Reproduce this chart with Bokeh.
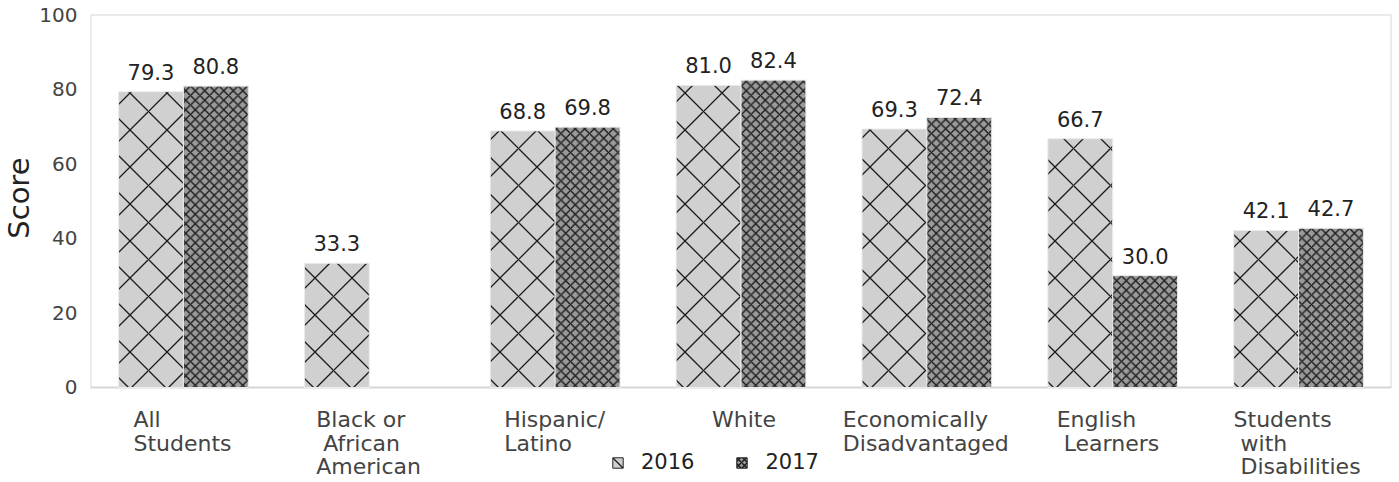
import numpy as np
from bokeh.plotting import figure
from bokeh.models import (ColumnDataSource, FixedTicker, Legend, LegendItem, LabelSet,
                          Range1d, Title)
from bokeh.core.properties import value
from bokeh.embed import file_html
from bokeh.resources import INLINE

NB = "\u00a0"
categories = ["All\nStudents", "Black or\n" + NB + "African\nAmerican", "Hispanic/\nLatino", "White",
              "Economically\nDisadvantaged", "English\n" + NB + "Learners",
              "Students\n" + NB + "with\n" + NB + "Disabilities"]
series_names = ["2016", "2017"]
values_2016 = [79.3, 33.3, 68.8, 81.0, 69.3, 66.7, 42.1]
values_2017 = [80.8, None, 69.8, 82.4, 72.4, 30.0, 42.7]
y_ticks = [0, 20, 40, 60, 80, 100]

# style: horizontal shift (px) of each left-aligned label block
label_shift = [-50, -53, -51, -29, -84, -56, -65]

FONT = "DejaVu Sans"
n = len(categories)
idx = list(range(n))
bw = 0.349
y_top = max(y_ticks)
y_floor = -25.47  # room below the axis for labels and legend (layout)

p = figure(width=1399, height=482, output_backend="svg", toolbar_location=None,
           x_range=Range1d(-0.5, n - 0.5), y_range=Range1d(y_floor, y_top),
           x_axis_location=None,
           min_border_left=87, min_border_right=8, min_border_top=14, min_border_bottom=0)
p.outline_line_color = None
p.grid.visible = False
p.background_fill_color = "white"
p.border_fill_color = "white"

# plot-area box (0..100)
p.quad(left=[p.x_range.start], right=[p.x_range.end], bottom=[y_ticks[0]], top=[y_top],
       fill_color=None, line_color="#d6d6d6", line_width=2)

s16 = ColumnDataSource(dict(x=[i - bw / 2 for i in idx], top=values_2016,
                            lab=["%.1f" % v for v in values_2016]))
k17 = [i for i, v in enumerate(values_2017) if v is not None]
s17 = ColumnDataSource(dict(x=[i + bw / 2 for i in k17], top=[values_2017[i] for i in k17],
                            lab=["%.1f" % values_2017[i] for i in k17]))

style16 = dict(fill_color="#d0d0d0", hatch_pattern="diagonal_cross",
               hatch_scale=37, hatch_color="#1a1a1a", hatch_weight=1.3)
style17 = dict(fill_color="#9a9a9a", hatch_pattern="diagonal_cross",
               hatch_scale=9.5, hatch_color="#1a1a1a", hatch_weight=1.4)

p.vbar(x="x", top="top", width=bw, source=s16, line_color="#ececec", line_width=1, **style16)
p.vbar(x="x", top="top", width=bw, source=s17, line_color="#ececec", line_width=1, **style17)

# legend swatches (dark outline, as in the reference key)
l16 = p.vbar(x="x", top="top", width=bw, source=s16, line_color="#222222", line_width=1,
             visible=False, **style16)
l17 = p.vbar(x="x", top="top", width=bw, source=s17, line_color="#222222", line_width=1,
             visible=False, **dict(style17, hatch_scale=6))

for src in (s16, s17):
    p.add_layout(LabelSet(x="x", y="top", text="lab", source=src, y_offset=12,
                          text_align="center", text_baseline="bottom",
                          text_font=value(FONT), text_font_size="21px", text_color="#222222"))

# category labels under the axis
cat_src = ColumnDataSource(dict(x=idx, y=[y_ticks[0]] * n, text=categories, xo=label_shift))
p.add_layout(LabelSet(x="x", y="y", text="text", source=cat_src, x_offset="xo", y_offset=-20,
                      text_align="left", text_baseline="top", text_line_height=0.93,
                      text_font=value(FONT), text_font_size="22px", text_color="#444444"))

p.yaxis.ticker = FixedTicker(ticks=y_ticks)
p.yaxis.major_tick_line_color = None
p.yaxis.major_tick_out = 0
p.yaxis.major_tick_in = 0
p.yaxis.minor_tick_line_color = None
p.yaxis.minor_tick_out = 0
p.yaxis.axis_line_color = None
p.yaxis.major_label_text_font = FONT
p.yaxis.major_label_text_font_size = "20px"
p.yaxis.major_label_text_color = "#444444"
p.yaxis.major_label_standoff = 13

p.add_layout(Title(text="Score", align="right", offset=143, vertical_align="middle",
                   text_font=FONT, text_font_size="29px", text_font_style="normal",
                   text_color="#222222", standoff=0), "left")

legend = Legend(items=[LegendItem(label=series_names[0], renderers=[l16]),
                       LegendItem(label=series_names[1], renderers=[l17])],
                orientation="horizontal", location=(521, 8), click_policy="none",
                glyph_width=13, glyph_height=13, label_text_font=FONT,
                label_text_font_size="21px", label_text_color="#222222",
                spacing=41, label_standoff=17, padding=2, margin=0,
                inactive_fill_alpha=0,
                background_fill_alpha=0, border_line_color=None)
p.add_layout(legend)

open("out.html", "w").write(file_html(p, INLINE))
